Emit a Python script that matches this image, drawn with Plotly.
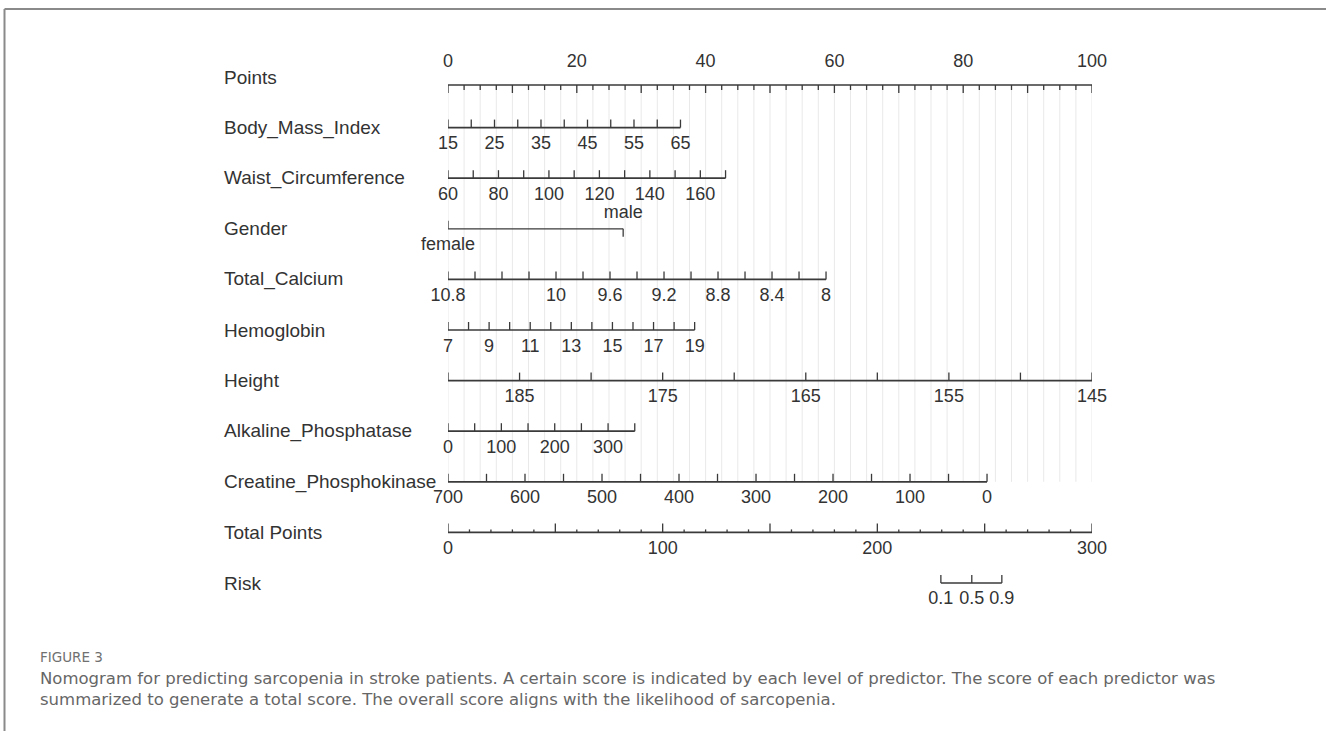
import numpy as np
import plotly.graph_objects as go

W, H = 1326, 731

# ---------------- data ----------------
row_names = ["Points", "Body_Mass_Index", "Waist_Circumference", "Gender",
             "Total_Calcium", "Hemoglobin", "Height", "Alkaline_Phosphatase",
             "Creatine_Phosphokinase", "Total Points", "Risk"]

points_labels = [0, 20, 40, 60, 80, 100]
points_major = [0, 10, 20, 30, 40, 50, 60, 70, 80, 90, 100]
points_minor_step = 2.5

bmi_ticks = [15, 20, 25, 30, 35, 40, 45, 50, 55, 60, 65]
bmi_labels = [15, 25, 35, 45, 55, 65]
bmi_points = [0, 36.1]          # points at 15 and 65

waist_ticks = [60, 70, 80, 90, 100, 110, 120, 130, 140, 150, 160, 170]
waist_labels = [60, 80, 100, 120, 140, 160]
waist_points = [0, 43.1]        # points at 60 and 170

gender_levels = ["female", "male"]
gender_points = [0, 27.2]

calcium_ticks = [10.8, 10.6, 10.4, 10.2, 10.0, 9.8, 9.6, 9.4, 9.2, 9.0, 8.8, 8.6, 8.4, 8.2, 8.0]
calcium_labels = [10.8, 10, 9.6, 9.2, 8.8, 8.4, 8]
calcium_points = [0, 58.7]      # points at 10.8 and 8

hgb_ticks = [7, 8, 9, 10, 11, 12, 13, 14, 15, 16, 17, 18, 19]
hgb_labels = [7, 9, 11, 13, 15, 17, 19]
hgb_points = [0, 38.3]          # points at 7 and 19

height_ticks = [190, 185, 180, 175, 170, 165, 160, 155, 150, 145]
height_labels = [185, 175, 165, 155, 145]
height_points = [0, 100]        # points at 190 and 145

alp_ticks = [0, 50, 100, 150, 200, 250, 300, 350]
alp_labels = [0, 100, 200, 300]
alp_points = [0, 29.0]          # points at 0 and 350

cpk_ticks = [700, 650, 600, 550, 500, 450, 400, 350, 300, 250, 200, 150, 100, 50, 0]
cpk_labels = [700, 600, 500, 400, 300, 200, 100, 0]
cpk_points = [0, 83.7]          # points at 700 and 0

total_ticks = [0, 10, 20, 30, 40, 50, 60, 70, 80, 90, 100, 110, 120, 130, 140, 150,
               160, 170, 180, 190, 200, 210, 220, 230, 240, 250, 260, 270, 280, 290, 300]
total_major = [0, 50, 100, 150, 200, 250, 300]
total_labels = [0, 100, 200, 300]
total_max = 300

risk_values = [0.1, 0.5, 0.9]
risk_total_points = [229.6, 244.0, 258.0]

caption_head = "FIGURE 3"
caption_lines = [
    "Nomogram for predicting sarcopenia in stroke patients. A certain score is indicated by each level of predictor. The score of each predictor was",
    "summarized to generate a total score. The overall score aligns with the likelihood of sarcopenia.",
]

# ---------------- styling ----------------
ROW_PX = 50.6
X0_PX, X1_PX = 448, 1092
FONT = "Liberation Sans, Arial, sans-serif"
INK = "#333333"
LINE = "#3a3a3a"
LAB_FS = 19
TICK_FS = 18

def px(d):
    return d / ROW_PX

fig = go.Figure()

def lin(vals, vrange, prange):
    v0, v1 = vrange
    p0, p1 = prange
    return [p0 + (v - v0) / (v1 - v0) * (p1 - p0) for v in vals]

def add_line(x0, x1, y, width=1.7):
    fig.add_trace(go.Scatter(x=[x0, x1], y=[y, y], mode="lines",
                             line=dict(color=LINE, width=width),
                             hoverinfo="skip", showlegend=False))

def add_ticks(xs, y, lengths, width=1.3):
    tx, ty = [], []
    for x, L in zip(xs, lengths):
        tx += [x, x, None]
        ty += [y, y + L, None]
    fig.add_trace(go.Scatter(x=tx, y=ty, mode="lines",
                             line=dict(color=LINE, width=width),
                             hoverinfo="skip", showlegend=False, cliponaxis=False))

def add_text(xs, y, texts, size=TICK_FS):
    fig.add_trace(go.Scatter(x=xs, y=[y] * len(xs), mode="text",
                             text=[str(t) for t in texts],
                             textposition="middle center",
                             textfont=dict(family=FONT, size=size, color=INK),
                             hoverinfo="skip", showlegend=False, cliponaxis=False))

# vertical reference grid lines
grid_x = list(np.arange(0, 100 + 1e-9, points_minor_step))
gx, gy = [], []
for x in grid_x:
    gx += [x, x, None]
    gy += [0 + px(8), 8, None]
fig.add_trace(go.Scatter(x=gx, y=gy, mode="lines",
                         line=dict(color="#e9e9e9", width=1),
                         hoverinfo="skip", showlegend=False))

LAB_OFF = px(17)
TICK_UP = -px(8)

# Points axis (row 0)
yp = 0 + px(8)
add_line(0, 100, yp)
minor = [x for x in grid_x]
add_ticks(minor, yp, [px(8) if (x % 10 == 0) else px(5) for x in minor])
add_text(points_labels, 0 - px(15), points_labels)

def numeric_axis(row, ticks, labels, vrange, prange):
    xs = lin(ticks, vrange, prange)
    add_line(min(xs), max(xs), row)
    add_ticks(xs, row, [TICK_UP] * len(xs))
    lx = lin(labels, vrange, prange)
    add_text(lx, row + LAB_OFF, [("%g" % v) for v in labels])

numeric_axis(1, bmi_ticks, bmi_labels, [bmi_ticks[0], bmi_ticks[-1]], bmi_points)
numeric_axis(2, waist_ticks, waist_labels, [waist_ticks[0], waist_ticks[-1]], waist_points)

# Gender (categorical)
add_line(gender_points[0], gender_points[1], 3, width=1.2)
add_ticks([gender_points[0]], 3, [TICK_UP])
add_ticks([gender_points[1]], 3, [-TICK_UP])
add_text([gender_points[0]], 3 + LAB_OFF, [gender_levels[0]])
add_text([gender_points[1]], 3 - px(15), [gender_levels[1]])

numeric_axis(4, calcium_ticks, calcium_labels, [calcium_ticks[0], calcium_ticks[-1]], calcium_points)
numeric_axis(5, hgb_ticks, hgb_labels, [hgb_ticks[0], hgb_ticks[-1]], hgb_points)
numeric_axis(6, height_ticks, height_labels, [height_ticks[0], height_ticks[-1]], height_points)
numeric_axis(7, alp_ticks, alp_labels, [alp_ticks[0], alp_ticks[-1]], alp_points)
numeric_axis(8, cpk_ticks, cpk_labels, [cpk_ticks[0], cpk_ticks[-1]], cpk_points)

# Total points
tx = lin(total_ticks, [0, total_max], [0, 100])
add_line(0, 100, 9)
add_ticks(tx, 9, [-px(9) if t in total_major else -px(3) for t in total_ticks])
add_text(lin(total_labels, [0, total_max], [0, 100]), 9 + LAB_OFF, total_labels)

# Risk
rx = lin(risk_total_points, [0, total_max], [0, 100])
add_line(min(rx), max(rx), 10, width=1.3)
add_ticks(rx, 10, [TICK_UP] * len(rx))
add_text(rx, 10 + px(16), [("%g" % v) for v in risk_values])

# row labels
annotations = []
for i, name in enumerate(row_names):
    annotations.append(dict(x=222 / W, y=i, xref="paper", yref="y", text=name,
                            showarrow=False, xanchor="left", yanchor="middle",
                            font=dict(family=FONT, size=LAB_FS, color=INK)))

# caption
CAP_FONT = "DejaVu Sans, Verdana, sans-serif"
annotations.append(dict(x=38 / W, y=1 - 657 / H, xref="paper", yref="paper",
                        text=caption_head, showarrow=False, xanchor="left", yanchor="middle",
                        font=dict(family=CAP_FONT, size=13.5, color="#707070")))
for j, (ln, ypx) in enumerate(zip(caption_lines, [678, 699])):
    annotations.append(dict(x=38 / W, y=1 - ypx / H, xref="paper", yref="paper",
                            text=ln, showarrow=False, xanchor="left", yanchor="middle",
                            font=dict(family=CAP_FONT, size=16.5, color="#666666")))

# y range so row i sits at pixel 77 + ROW_PX*i
y_top = -77 / ROW_PX
y_bot = (H - 77) / ROW_PX

shapes = [
    dict(type="line", xref="paper", yref="paper", x0=4.5 / W, x1=1, y0=1 - 9 / H, y1=1 - 9 / H,
         line=dict(color="#8a8a8a", width=2)),
    dict(type="line", xref="paper", yref="paper", x0=4.5 / W, x1=4.5 / W, y0=0, y1=1 - 9 / H,
         line=dict(color="#8a8a8a", width=2)),
]

fig.update_layout(
    width=W, height=H,
    margin=dict(l=0, r=0, t=0, b=0),
    paper_bgcolor="white", plot_bgcolor="white",
    xaxis=dict(domain=[X0_PX / W, X1_PX / W], range=[0, 100], visible=False, fixedrange=True),
    yaxis=dict(range=[y_bot, y_top], visible=False, fixedrange=True),
    annotations=annotations,
    shapes=shapes,
    showlegend=False,
)

fig.write_html("out.html", config={"displayModeBar": False},
               post_script="document.body.style.margin='0';document.body.style.overflow='hidden';")
